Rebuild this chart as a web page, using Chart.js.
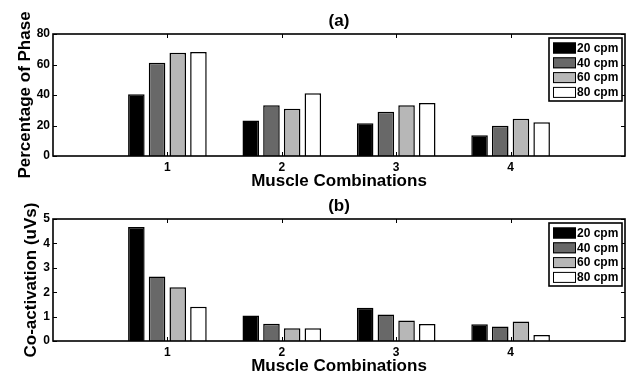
<!DOCTYPE html>
<html>
<head>
<meta charset="utf-8">
<script src="https://cdn.jsdelivr.net/npm/chart.js@4.4.1/dist/chart.umd.min.js"></script>
<style>
  html, body { margin: 0; padding: 0; background: #fff; }
  #wrap { position: relative; width: 629px; height: 375px; background: #fff; overflow: hidden; }
  canvas { position: absolute; left: 0; }
</style>
</head>
<body>
<div id="wrap">
  <canvas id="chartA" style="top:0px"></canvas>
  <canvas id="chartB" style="top:185px"></canvas>
</div>
<script>
const combos = ['1', '2', '3', '4'];
const speeds = ['20 cpm', '40 cpm', '60 cpm', '80 cpm'];
const colors = ['#000000', '#686868', '#b7b7b7', '#ffffff'];

// (a) percentage of phase
const phase20 = [40.5, 23.2, 21.4, 13.6];
const phase40 = [61.2, 33.2, 29.0, 19.9];
const phase60 = [67.7, 31.0, 33.2, 24.5];
const phase80 = [68.2, 41.1, 34.8, 22.1];

// (b) co-activation
const coact20 = [4.67, 1.04, 1.36, 0.69];
const coact40 = [2.64, 0.71, 1.09, 0.59];
const coact60 = [2.20, 0.52, 0.84, 0.80];
const coact80 = [1.40, 0.52, 0.70, 0.25];

const FONT = "'Liberation Sans', Arial, Helvetica, sans-serif";

// axis box + inward ticks like matlab
const boxPlugin = {
  id: 'box',
  afterDatasetsDraw(chart) {
    const {ctx, chartArea: a, scales: {x, y}} = chart;
    ctx.save();
    ctx.strokeStyle = '#000';
    ctx.lineWidth = 1;
    ctx.beginPath();
    for (let i = 1; i <= combos.length; i++) {
      const px = Math.round(x.getPixelForValue(i)) + 0.5;
      ctx.moveTo(px, a.bottom); ctx.lineTo(px, a.bottom - 4);
      ctx.moveTo(px, a.top); ctx.lineTo(px, a.top + 4);
    }
    y.ticks.forEach(t => {
      const py = Math.round(y.getPixelForValue(t.value)) + 0.5;
      ctx.moveTo(a.left, py); ctx.lineTo(a.left + 4, py);
      ctx.moveTo(a.right, py); ctx.lineTo(a.right - 4, py);
    });
    ctx.stroke();
    ctx.lineWidth = 1.6;
    ctx.strokeRect(a.left, a.top, a.right - a.left, a.bottom - a.top);
    ctx.restore();
  },
  afterDraw(chart) {
    // legend box in the top right corner of the axes
    const {ctx, chartArea: a} = chart;
    const w = 73, h = 63;
    const left = a.right - 3 - w, top = a.top + 4;
    ctx.save();
    ctx.fillStyle = '#fff';
    ctx.fillRect(left, top, w, h);
    ctx.strokeStyle = '#000';
    ctx.lineWidth = 1.6;
    ctx.strokeRect(left, top, w, h);
    ctx.font = 'bold 12px ' + FONT;
    ctx.textBaseline = 'middle';
    chart.data.datasets.forEach((ds, i) => {
      const cy = top + 10 + i * 14.8;
      ctx.fillStyle = ds.backgroundColor;
      ctx.fillRect(left + 4, cy - 5.5, 23, 11);
      ctx.lineWidth = 1;
      ctx.strokeRect(left + 4.5, cy - 5, 22, 10);
      ctx.fillStyle = '#000';
      ctx.fillText(ds.label, left + 28, cy + 0.5);
    });
    ctx.restore();
  }
};

function pad(arr) { return [null, ...arr, null]; }

function makeChart(id, title, yTitle, yMax, yStep, yTitlePad, series) {
  return new Chart(document.getElementById(id), {
    type: 'bar',
    data: {
      labels: ['', ...combos, ''],
      datasets: series.map((s, i) => ({
        label: speeds[i],
        data: pad(s),
        backgroundColor: colors[i],
        borderColor: '#000',
        borderWidth: 1.5,
        categoryPercentage: 0.7235,
        barPercentage: 0.8
      }))
    },
    options: {
      responsive: false,
      animation: false,
      layout: { padding: { left: 0, right: 2, top: 0, bottom: 0 } },
      plugins: {
        legend: { display: false },
        tooltip: { enabled: false },
        title: {
          display: true,
          text: title,
          fullSize: false,
          color: '#000',
          font: { family: FONT, size: 17, weight: 'bold', lineHeight: 1.2 },
          padding: { top: 11, bottom: 2.6 }
        }
      },
      scales: {
        x: {
          type: 'category',
          offset: false,
          grid: { display: false, drawTicks: false },
          border: { display: false },
          ticks: {
            autoSkip: false, maxRotation: 0, padding: 4, color: '#000',
            font: { family: FONT, size: 12, weight: 'bold' }
          },
          title: {
            display: true, text: 'Muscle Combinations', color: '#000',
            font: { family: FONT, size: 17, weight: 'bold', lineHeight: 1 },
            padding: 0
          },
          afterFit(scale) { scale.height = 34; }
        },
        y: {
          min: 0, max: yMax,
          grid: { display: false, drawTicks: false },
          border: { display: false },
          ticks: {
            stepSize: yStep, padding: 3, color: '#000',
            font: { family: FONT, size: 12, weight: 'bold' }
          },
          title: {
            display: true, text: yTitle, color: '#000',
            font: { family: FONT, size: 17, weight: 'bold', lineHeight: 1 },
            padding: { top: yTitlePad, bottom: 0 }
          },
          afterFit(scale) { scale.width = 53; }
        }
      }
    },
    plugins: [boxPlugin]
  });
}

function sizeCanvas(id) {
  const c = document.getElementById(id);
  c.width = 629; c.height = 190;
  c.style.width = '629px'; c.style.height = '190px';
}
sizeCanvas('chartA');
sizeCanvas('chartB');

makeChart('chartA', '(a)', 'Percentage of Phase', 80, 20, 17, 
  [phase20, phase40, phase60, phase80]);
makeChart('chartB', '(b)', 'Co-activation (uVs)', 5, 1, 23,
  [coact20, coact40, coact60, coact80]);
</script>
</body>
</html>
